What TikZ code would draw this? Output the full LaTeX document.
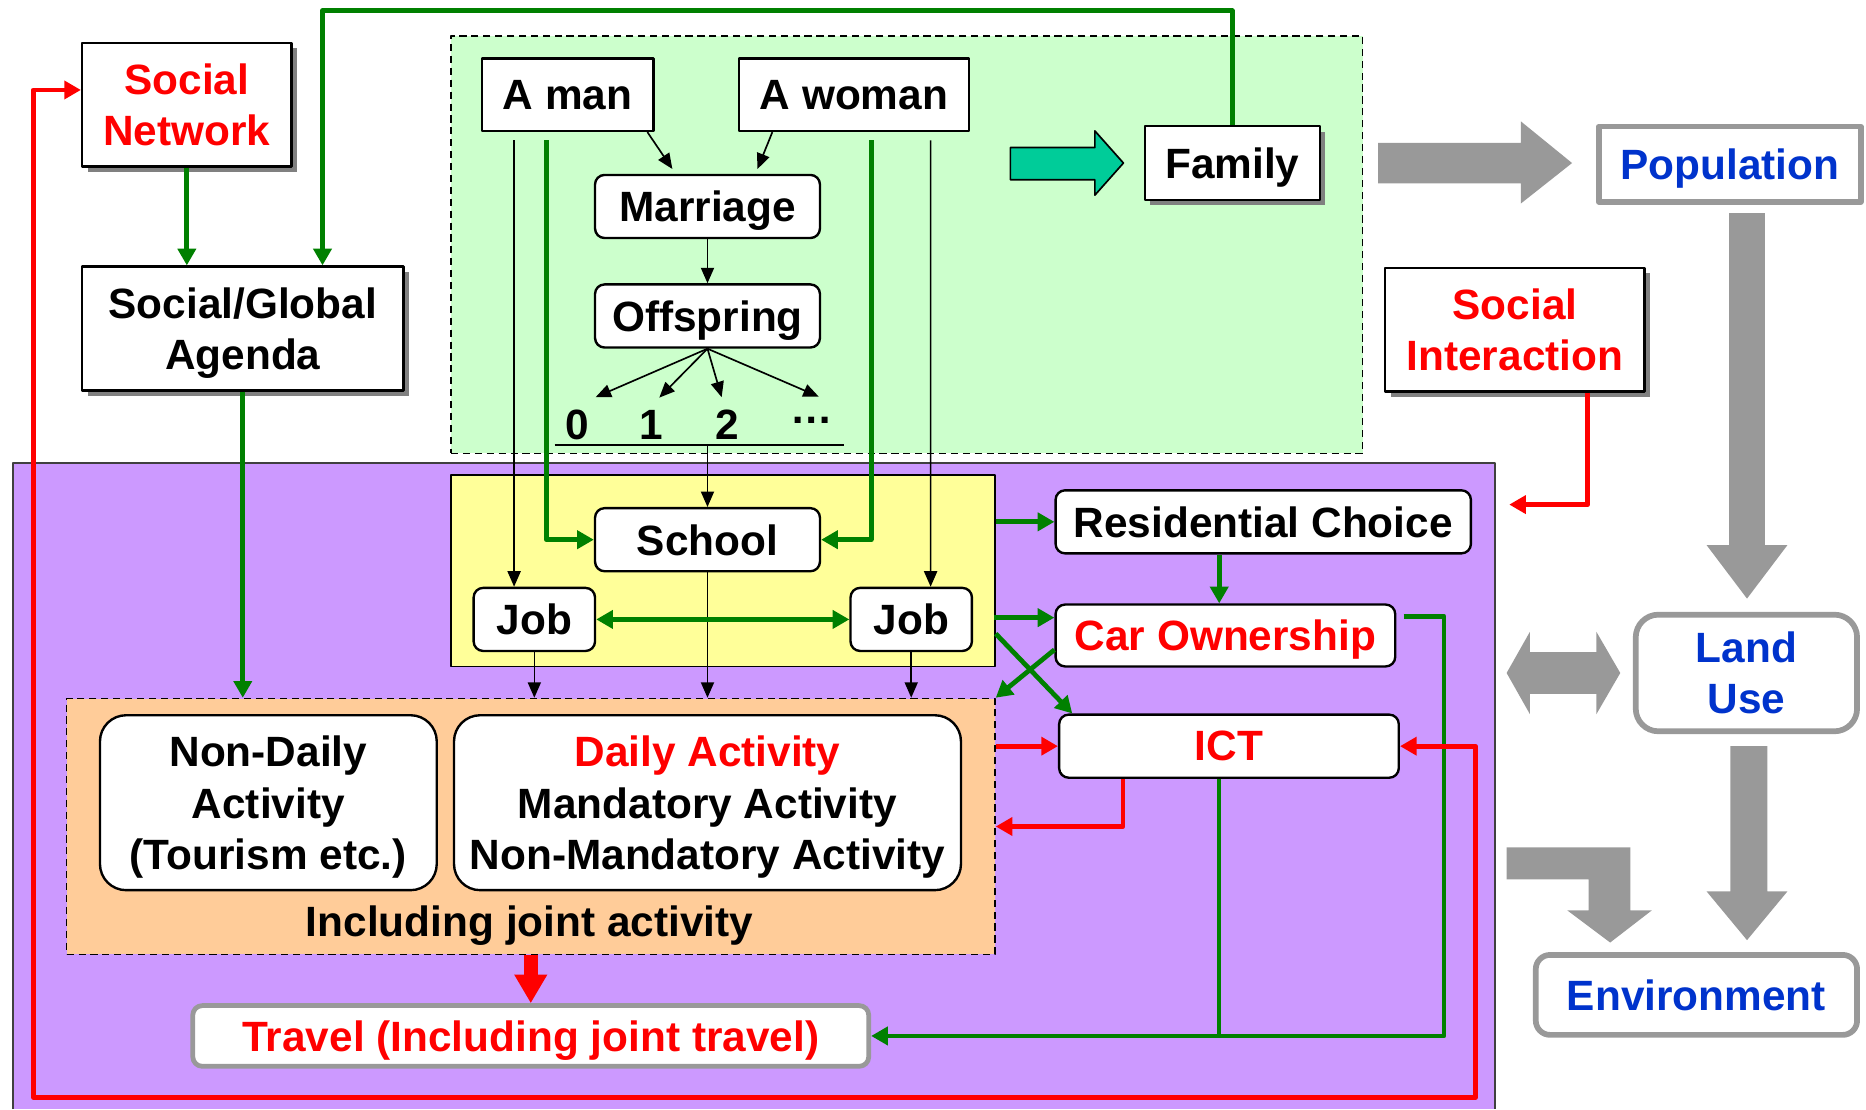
\documentclass[tikz,border=0pt]{standalone}
\usepackage{fontspec}
\setmainfont{Liberation Sans}
\usetikzlibrary{arrows.meta,shadows}
\definecolor{dgreen}{HTML}{008000}
\definecolor{lgreen}{HTML}{CCFFCC}
\definecolor{lpurple}{HTML}{CC99FF}
\definecolor{lyellow}{HTML}{FFFF99}
\definecolor{lorange}{HTML}{FFCC99}
\definecolor{tealarrow}{HTML}{00CC99}
\definecolor{arrowgray}{HTML}{999999}
\definecolor{shadowgray}{HTML}{808080}
\definecolor{titleblue}{HTML}{0033CC}
\begin{document}
\begin{tikzpicture}[x=0.5pt,y=-0.5pt,line join=round,>={Triangle[length=6.5pt,width=5.5pt]},
	plainbox/.style={draw,line width=1pt,fill=white,inner sep=0pt,align=center},
	roundbox/.style={plainbox,rounded corners=4pt},
	shadebox/.style={plainbox,drop shadow={shadow xshift=2.3pt,shadow yshift=-2.3pt,fill=shadowgray,opacity=1}},
	greybox/.style={plainbox,draw=arrowgray,line width=2.4pt,text=titleblue},
	areabox/.style={draw,line width=0.7pt,inner sep=0pt},
	thinline/.style={line width=0.7pt},
	bigtip/.style={>={Triangle[length=7pt,width=7.5pt]}},
	greenline/.style={dgreen,line width=2pt,bigtip},
	redline/.style={red,line width=2pt,bigtip}]
	\tikzset{every node/.style={font=\fontsize{17.8}{21.5}\selectfont\bfseries,text depth=0pt}}
	\useasboundingbox (0,0) rectangle (1568,932);
	\fill[lpurple] (11,389) rectangle (1256,932);
	\draw[thinline,darkgray] (11,932) -- (11,389) -- (1256,389) -- (1256,932);
	\node[areabox,dash pattern=on 3pt off 2pt,fill=lgreen,minimum width=383pt,minimum height=175.5pt] (lifebox) at (762,205.5) {};
	\node[areabox,fill=lyellow,minimum width=228.5pt,minimum height=80.5pt] (edubox) at (607.5,479.5) {};
	\node[areabox,dash pattern=on 3pt off 2pt,fill=lorange,minimum width=390pt,minimum height=107.5pt] (actbox) at (446,694.5) {};

	\node[shadebox,text=red,minimum width=88pt,minimum height=52pt] (socnet) at (157,88) {Social\\Network};
	\node[shadebox,minimum width=135pt,minimum height=52pt] (agenda) at (204,276) {Social/Global\\Agenda};
	\node[plainbox,minimum width=72pt,minimum height=30.5pt] (man) at (477,79.5) {A man};
	\node[plainbox,minimum width=96.5pt,minimum height=30.5pt] (woman) at (717.5,79.5) {A woman};
	\node[roundbox,minimum width=94.5pt,minimum height=26.5pt] (marriage) at (594.5,173.5) {Marriage};
	\node[roundbox,minimum width=94.5pt,minimum height=26.5pt] (offspring) at (594.5,265.5) {Offspring};
	\foreach \dg/\px in {0/485.5,1/547,2/611}
		\node[inner sep=0pt,anchor=base] (d\dg) at (\px,369) {\dg};
	\node[inner sep=0pt,anchor=base] (dots) at (682,356) {…};
	\coordinate (ulL) at (466,374);
	\coordinate (ulR) at (709,374);
	\node[shadebox,minimum width=73.5pt,minimum height=31pt] (family) at (1035.5,137) {Family};
	\node[greybox,minimum width=110pt,minimum height=31.6pt] (population) at (1453.5,138) {Population};
	\node[shadebox,text=red,minimum width=109pt,minimum height=52pt] (socint) at (1273,277) {Social\\Interaction};
	\node[greybox,rounded corners=9.5pt,minimum width=93pt,minimum height=49pt] (landuse) at (1467.5,565.5) {Land\\Use};
	\node[greybox,rounded corners=6pt,minimum width=135pt,minimum height=33.6pt] (environment) at (1425.5,836) {Environment};

	\node[roundbox,minimum width=94.5pt,minimum height=26.5pt] (school) at (594.5,453.5) {School};
	\node[roundbox,minimum width=51pt,minimum height=26.5pt] (jobL) at (449,520.5) {Job};
	\node[roundbox,minimum width=51pt,minimum height=26.5pt] (jobR) at (765.7,520.5) {Job};
	\node[roundbox,rounded corners=11pt,minimum width=141.5pt,minimum height=73.5pt] (nondaily) at (225.5,674.5) {Non-Daily\\Activity\\(Tourism etc.)};
	\node[roundbox,rounded corners=11pt,minimum width=213pt,minimum height=73.5pt] (daily) at (594.5,674.5) {\textcolor{red}{Daily Activity}\\Mandatory Activity\\Non-Mandatory Activity};
	\node (joint) at (445,774) {Including joint activity};
	\node[greybox,rounded corners=4pt,line width=2pt,text=red,minimum width=284pt,minimum height=25.5pt] (travel) at (446,870.5) {Travel (Including joint travel)};
	\node[roundbox,minimum width=174.5pt,minimum height=26.5pt] (reschoice) at (1061.5,438.5) {Residential Choice};
	\node[roundbox,text=red,minimum width=142.7pt,minimum height=26pt] (carown) at (1029.7,534) {Car Ownership};
	\node[roundbox,text=red,minimum width=142.7pt,minimum height=26.5pt] (ict) at (1032.7,627) {ICT};

	\draw[thinline,fill=tealarrow] (849,124) -- (920,124) -- (920,110) -- (944,137) -- (920,164) -- (920,151) -- (849,151) -- cycle;
	\fill[arrowgray] (1158,120) -- (1278,120) -- (1278,102) -- (1321,137) -- (1278,171) -- (1278,154) -- (1158,154) -- cycle;
	\fill[arrowgray] (1453,179) -- (1483,179) -- (1483,458) -- (1502,458) -- (1468,503) -- (1434,458) -- (1453,458) -- cycle;
	\fill[arrowgray] (1266,565.5) -- (1285.5,531) -- (1285.5,548) -- (1341.5,548) -- (1341.5,531) -- (1361.5,565.5) -- (1341.5,600) -- (1341.5,583) -- (1285.5,583) -- (1285.5,600) -- cycle;
	\fill[arrowgray] (1454,627) -- (1485,627) -- (1485,749) -- (1502,749) -- (1468,790) -- (1434,749) -- (1454,749) -- cycle;
	\fill[arrowgray] (1266,712) -- (1370,712) -- (1370,765) -- (1388,765) -- (1353,792) -- (1317,765) -- (1335,765) -- (1335,739) -- (1266,739) -- cycle;

	\draw[thinline,->] ([xshift=-3pt]man.south east) -- ([xshift=-14.75pt,yshift=2pt]marriage.north);
	\draw[thinline,->] ([xshift=14.5pt]woman.south west) -- ([xshift=21pt,yshift=2pt]marriage.north);
	\draw[thinline,->] (marriage.south) -- (offspring.north);
	\foreach \nd/\s in {d0/7.5pt,d1/3.5pt,d2/-2.3pt}
		\draw[thinline,->] (offspring.south) -- ([xshift=\s,yshift=5pt]\nd.north);
	\draw[thinline,->] (offspring.south) -- ([xshift=3pt,yshift=8.5pt]dots.north);
	\draw[line width=1pt] (ulL) -- (ulR);
	\draw[thinline,->] (school.north |- ulL) -- (school.north);
	\draw[thinline,->] ([xshift=-22.5pt,yshift=-3.5pt]man.south) -- ([xshift=-8.5pt]jobL.north);
	\draw[thinline,->] ([xshift=32.25pt,yshift=-3.5pt]woman.south) -- ([xshift=8.15pt]jobR.north);
	\foreach \n in {jobL,school,jobR}
		\draw[thinline,->] (\n.south) -- (\n.south |- actbox.north);

	\draw[greenline,->] (socnet.south) -- (socnet.south |- agenda.north);
	\draw[greenline,->] (family.north) -- (family.north |- 0,9) -| ([xshift=33.5pt]agenda.north);
	\draw[greenline,->] (agenda.south) -- (agenda.south |- actbox.north);
	\draw[greenline,->] ([xshift=-9pt,yshift=-3.5pt]man.south) |- (school.west);
	\draw[greenline,->] ([xshift=7.25pt,yshift=-3.5pt]woman.south) |- (school.east);
	\draw[greenline,<->] (jobL.east) -- (jobR.west);
	\draw[greenline,->] (edubox.east |- reschoice.west) -- (reschoice.west);
	\draw[greenline,<-] ([yshift=7.5pt]carown.west) -- ++(-51,0);
	\draw[greenline,->] ([xshift=-18.5pt]reschoice.south) -- ([xshift=-18.5pt]reschoice.south |- carown.north);
	\draw[greenline,->] ([yshift=-26.5pt]edubox.east) -- ([xshift=6pt]ict.north west);
	\draw[greenline,->] ([yshift=-6pt]carown.west) -- (actbox.north east);
	\draw[greenline,->] ([xshift=3pt,yshift=8pt]carown.east) -- ++(34,0) |- (travel.east);
	\draw[greenline] ([xshift=-4.2pt]ict.south) -- ([xshift=-4.2pt]ict.south |- travel.east);

	\draw[redline,<->] ([yshift=6.2pt]socnet.west) -| (28,922) -| (1240,627) -- (ict.east);
	\draw[redline,->] ([xshift=30.6pt]socint.south) |- ++(-66,94);
	\draw[redline,->] (actbox.east |- ict.west) -- (ict.west);
	\draw[redline,->] ([xshift=-44.5pt]ict.south) |- (actbox.east);
	\draw[red,line width=6pt,-{Triangle[length=12pt,width=13pt]}] (actbox.south) -- (travel.north);
\end{tikzpicture}
\end{document}
